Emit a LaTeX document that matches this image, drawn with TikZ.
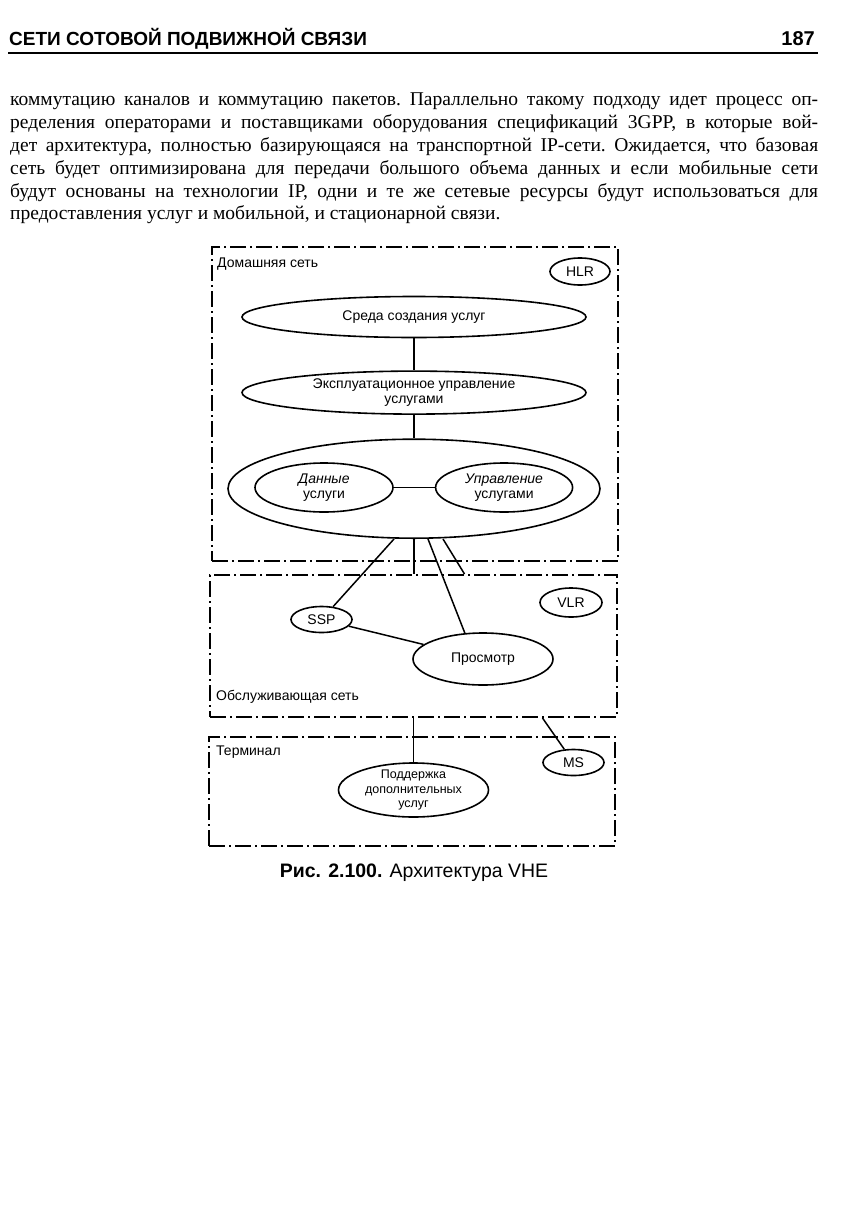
\documentclass[tikz,border=0pt]{standalone}
\usepackage{fontspec}
\setmainfont{Liberation Serif}
\setsansfont{Liberation Sans}
\usepackage{tikz}
\usetikzlibrary{positioning,shapes.geometric}

\begin{document}
\begin{tikzpicture}[
x=1pt, y=-1pt,
net/.style={draw, line width=2pt, dash pattern=on 16pt off 4pt on 2pt off 4pt, inner sep=0pt},
oval/.style={draw, ellipse, line width=1.6pt, inner sep=0pt, align=center, font=\sffamily\fontsize{14}{15.5}\selectfont},
link/.style={line width=1.5pt},
netlabel/.style={anchor=west, inner sep=0pt, font=\sffamily\fontsize{14}{16}\selectfont}
]
\useasboundingbox (0,0) rectangle (848,1210);

% page head and text
\node[anchor=base west, inner sep=0pt, font=\sffamily\bfseries\fontsize{19}{20}\selectfont] (head) at (9,45) {СЕТИ СОТОВОЙ ПОДВИЖНОЙ СВЯЗИ};
\node[anchor=base east, inner sep=0pt, font=\sffamily\bfseries\fontsize{20}{20}\selectfont] (page) at (815,45) {187};
\draw[line width=2.5pt] (8,53) -- (818,53);
\node[anchor=north west, inner sep=0pt, text width=808pt, align=justify, font=\fontsize{19.5}{22.8}\selectfont\frenchspacing] (para) at (10,93) {коммутацию каналов и коммутацию пакетов. Параллельно такому подходу идет процесс оп-\linebreak
ределения операторами и поставщиками оборудования спецификаций 3GPP, в которые вой-\linebreak
дет архитектура, полностью базирующаяся на транспортной IP-сети. Ожидается, что базовая\linebreak
сеть будет оптимизирована для передачи большого объема данных и если мобильные сети\linebreak
будут основаны на технологии IP, одни и те же сетевые ресурсы будут использоваться для\linebreak
предоставления услуг и мобильной, и стационарной связи.};

% networks
\node[net, minimum width=406pt, minimum height=314pt] (home) at (415,404) {};
\node[net, minimum width=407pt, minimum height=142pt] (serv) at (413.5,646) {};
\node[net, minimum width=406pt, minimum height=109pt] (term) at (412,791.5) {};
\node[netlabel] (homelbl) at (217,264) {Домашняя сеть};
\node[netlabel] (servlbl) at (216,697) {Обслуживающая сеть};
\node[netlabel] (termlbl) at (216,752) {Терминал};

% home network
\node[oval, minimum width=60pt, minimum height=27pt] (hlr) at (580,271.5) {HLR};
\node[oval, minimum width=344pt, minimum height=41pt] (env) at (414,317) {Среда создания услуг};
\node[oval, minimum width=344pt, minimum height=43pt, below=32pt of env] (oper) {Эксплуатационное управление\\услугами};
\node[oval, minimum width=372pt, minimum height=99pt, below=23.5pt of oper] (big) {};
\node[oval, minimum width=138pt, minimum height=49pt] (data) at (324,487.5) {\textit{Данные}\\услуги};
\node[oval, minimum width=137pt, minimum height=49pt, right=41pt of data] (mgmt) {\textit{Управление}\\услугами};

% serving network and terminal
\node[oval, minimum width=61pt, minimum height=26pt] (ssp) at (321.5,619.5) {SSP};
\node[oval, minimum width=62pt, minimum height=29pt] (vlr) at (571,602.5) {VLR};
\node[oval, minimum width=140pt, minimum height=52pt] (view) at (483,659) {Просмотр};
\node[oval, minimum width=61pt, minimum height=26pt] (ms) at (573.5,762.5) {MS};
\node[oval, minimum width=150pt, minimum height=54pt, inner sep=-5pt, font=\sffamily\fontsize{12.5}{14.5}\selectfont] (extra) at (413.5,790) {Поддержка\\дополнительных\\услуг};

\draw[link] (env) -- (oper);
\draw[link] (oper) -- (big);
\draw[link] (data) -- (mgmt);
\draw[link] ([xshift=-20pt]big.south) -- (ssp);
\draw[link] (big.south) -- (big.south |- serv.north);
\draw[link] ([xshift=14pt]big.south) -- (view.125);
\draw[link] ([xshift=29pt]big.south) -- ([xshift=51pt]serv.north);
\draw[link] (ssp) -- (view);
\draw[link] (serv.south) -- (extra);
\draw[link] ([xshift=129pt]serv.south) -- (ms);

\node[anchor=base, inner sep=0pt, font=\sffamily\fontsize{19.5}{22}\selectfont] (caption) at (414,877) {\textbf{Рис. 2.100.} Архитектура VHE};
\end{tikzpicture}
\end{document}
